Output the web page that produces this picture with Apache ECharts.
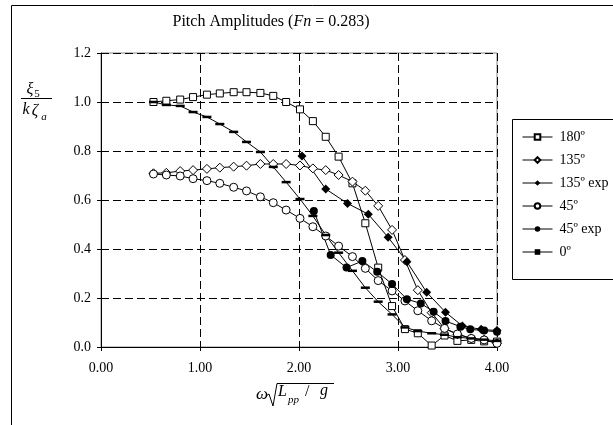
<!DOCTYPE html>
<html>
<head>
<meta charset="utf-8">
<script src="https://cdn.jsdelivr.net/npm/echarts@6/dist/echarts.min.js"></script>
<style>html,body{margin:0;padding:0;background:#fff;}#c{width:613px;height:425px;}</style>
</head>
<body>
<div id="c"></div>
<script>
// ---- data ----
const xTickLabels = ['0.00', '1.00', '2.00', '3.00', '4.00'];
const yTickLabels = ['0.0', '0.2', '0.4', '0.6', '0.8', '1.0', '1.2'];
const seriesNames = ['180º', '135º', '135º exp', '45º', '45º exp', '0º'];

const xCalc = [0.53,0.66,0.80,0.93,1.07,1.20,1.34,1.47,1.61,1.74,1.87,2.01,2.14,2.27,2.40,2.54,2.67,2.80,2.94,3.07,3.20,3.34,3.47,3.60,3.74,3.87,4.00];
const y180 = [1.000,1.005,1.010,1.020,1.030,1.035,1.040,1.040,1.037,1.025,1.000,0.970,0.922,0.858,0.777,0.668,0.505,0.324,0.167,0.073,0.056,0.006,0.047,0.025,0.029,0.023,0.022];
const y135 = [0.709,0.711,0.718,0.722,0.727,0.732,0.736,0.740,0.747,0.747,0.747,0.741,0.729,0.722,0.702,0.675,0.638,0.576,0.478,0.355,0.232,0.140,0.075,0.052,0.035,0.030,0.015];
const y45  = [0.706,0.702,0.698,0.687,0.679,0.668,0.652,0.637,0.613,0.589,0.559,0.525,0.491,0.453,0.412,0.369,0.321,0.271,0.229,0.188,0.148,0.107,0.076,0.053,0.035,0.029,0.015];
const y0   = [1.000,0.988,0.984,0.959,0.939,0.910,0.878,0.837,0.796,0.735,0.673,0.604,0.535,0.457,0.385,0.311,0.242,0.185,0.133,0.080,0.065,0.056,0.050,0.040,0.035,0.030,0.025];

const x135exp = [2.03,2.27,2.49,2.70,2.90,3.09,3.29,3.48,3.65,3.84,4.00];
const y135exp = [0.780,0.645,0.586,0.542,0.448,0.348,0.223,0.142,0.086,0.072,0.067];
const x45exp = [2.15,2.32,2.48,2.64,2.79,2.94,3.09,3.23,3.36,3.48,3.63,3.73,3.87,4.00];
const y45exp = [0.555,0.376,0.324,0.351,0.307,0.257,0.195,0.178,0.144,0.106,0.083,0.072,0.067,0.062];

function pairs(xs, ys) { return xs.map((x, i) => [x, ys[i]]); }

const SERIF = '"Liberation Serif", "Times New Roman", serif';
const chart = echarts.init(document.getElementById('c'), null, { renderer: 'canvas' });

function lineSeries(name, data, symbol, size, filled) {
  return {
    name: name, type: 'line', data: data,
    symbol: symbol, symbolSize: size, showSymbol: true,
    lineStyle: { color: '#000', width: 1 },
    itemStyle: { color: filled ? '#000' : '#fff', borderColor: '#000', borderWidth: filled ? 0 : 1 },
    emphasis: { disabled: true },
    clip: false, z: 3
  };
}

const option = {
  animation: false,
  backgroundColor: '#fff',
  grid: { left: 101, top: 53, width: 396, height: 294, show: true, borderColor: '#888', borderWidth: 1 },
  xAxis: {
    type: 'value', min: 0, max: 4, interval: 1,
    axisLine: { show: true, onZero: false, lineStyle: { color: '#000', width: 1 } },
    axisTick: { show: true, length: 4, lineStyle: { color: '#000' } },
    axisLabel: { margin: 14, fontFamily: SERIF, fontSize: 14, color: '#000',
      formatter: (v) => xTickLabels[Math.round(v)] },
    splitLine: { show: true, lineStyle: { color: '#000', type: [8, 4], width: 1 } }
  },
  yAxis: {
    type: 'value', min: 0, max: 1.2, interval: 0.2,
    axisLine: { show: true, onZero: false, lineStyle: { color: '#000', width: 1 } },
    axisTick: { show: true, length: 4, lineStyle: { color: '#000' } },
    axisLabel: { margin: 10, fontFamily: SERIF, fontSize: 14, color: '#000',
      formatter: (v) => yTickLabels[Math.round(v / 0.2)] },
    splitLine: { show: true, lineStyle: { color: '#000', type: [8, 4], width: 1 } }
  },
  legend: {
    orient: 'vertical', left: 517, top: 125, itemWidth: 30, itemHeight: 7, itemGap: 9,
    lineStyle: { width: 1, color: '#000' },
    textStyle: { fontFamily: SERIF, fontSize: 14, color: '#000', padding: [0, 0, 0, 2], lineHeight: 14 },
    data: seriesNames
  },
  series: [
    lineSeries(seriesNames[0], pairs(xCalc, y180), 'rect', 7, false),
    lineSeries(seriesNames[1], pairs(xCalc, y135), 'diamond', 9, false),
    lineSeries(seriesNames[2], pairs(x135exp, y135exp), 'diamond', 9, true),
    lineSeries(seriesNames[3], pairs(xCalc, y45), 'circle', 8, false),
    lineSeries(seriesNames[4], pairs(x45exp, y45exp), 'circle', 8, true),
    lineSeries(seriesNames[5], pairs(xCalc, y0), 'rect', [9, 2.5], true)
  ],
  graphic: [
    { type: 'rect', shape: { x: 11.5, y: 5.5, width: 640, height: 440 }, style: { fill: 'none', stroke: '#000', lineWidth: 1 }, z: 0, silent: true },
    { type: 'rect', shape: { x: 512.5, y: 119.5, width: 120, height: 160 }, style: { fill: '#fff', stroke: '#000', lineWidth: 1 }, z: 1, silent: true },
    { type: 'text', x: 271, y: 22, style: {
        text: '{a|Pitch Amplitudes (}{b|Fn}{a| = 0.283)}', align: 'center', verticalAlign: 'middle',
        rich: { a: { fontFamily: SERIF, fontSize: 16, fill: '#000' }, b: { fontFamily: SERIF, fontSize: 16, fontStyle: 'italic', fill: '#000' } } } },
    // y-axis label: xi_5 / (k zeta_a)
    { type: 'text', x: 30, y: 90, style: { text: 'ξ', font: 'italic 16px ' + SERIF, fill: '#000', align: 'center', verticalAlign: 'middle' } },
    { type: 'text', x: 37, y: 94, style: { text: '5', font: '11px ' + SERIF, fill: '#000', align: 'center', verticalAlign: 'middle' } },
    { type: 'line', shape: { x1: 21, y1: 98.5, x2: 52, y2: 98.5 }, style: { stroke: '#000', lineWidth: 1 } },
    { type: 'text', x: 26, y: 110, style: { text: 'k', font: 'italic 16px ' + SERIF, fill: '#000', align: 'center', verticalAlign: 'middle' } },
    { type: 'text', x: 35, y: 111, style: { text: 'ζ', font: 'italic 16px ' + SERIF, fill: '#000', align: 'center', verticalAlign: 'middle' } },
    { type: 'text', x: 44, y: 117, style: { text: 'a', font: 'italic 11px ' + SERIF, fill: '#000', align: 'center', verticalAlign: 'middle' } },
    // x-axis label: omega sqrt(Lpp / g)
    { type: 'text', x: 262, y: 395, style: { text: 'ω', font: 'italic 17px ' + SERIF, fill: '#000', align: 'center', verticalAlign: 'middle' } },
    { type: 'polyline', shape: { points: [[266, 396], [269, 394], [273, 406], [277, 383.5], [334, 383.5]] }, style: { stroke: '#000', lineWidth: 1, fill: 'none' } },
    { type: 'text', x: 278, y: 392, style: { text: 'L', font: 'italic 16px ' + SERIF, fill: '#000', align: 'left', verticalAlign: 'middle' } },
    { type: 'text', x: 288, y: 400, style: { text: 'pp', font: 'italic 11px ' + SERIF, fill: '#000', align: 'left', verticalAlign: 'middle' } },
    { type: 'text', x: 305, y: 392, style: { text: '/', font: '16px ' + SERIF, fill: '#000', align: 'left', verticalAlign: 'middle' } },
    { type: 'text', x: 320, y: 391, style: { text: 'g', font: 'italic 16px ' + SERIF, fill: '#000', align: 'left', verticalAlign: 'middle' } }
  ]
};
chart.setOption(option);
</script>
</body>
</html>
